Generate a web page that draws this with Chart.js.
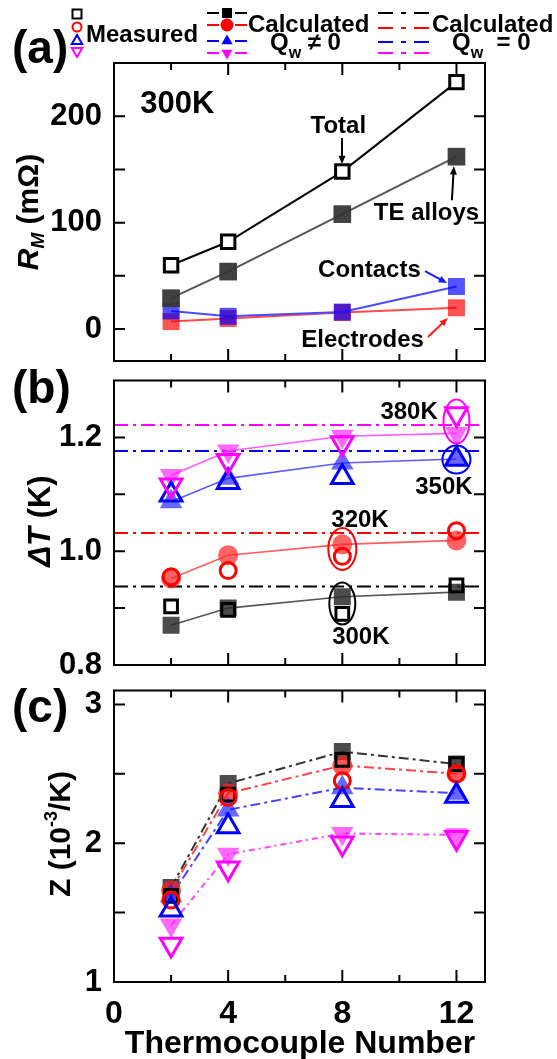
<!DOCTYPE html>
<html><head><meta charset="utf-8">
<style>
html,body{margin:0;padding:0;background:#fff;width:557px;height:1059px;overflow:hidden;position:relative}
canvas{position:absolute;left:0}
</style>
<script src="https://cdn.jsdelivr.net/npm/chart.js@4/dist/chart.umd.min.js"></script>
</head><body>
<canvas id="ca" width="557" height="375" style="top:0"></canvas>
<canvas id="cb" width="557" height="325" style="top:365px"></canvas>
<canvas id="cc" width="557" height="384" style="top:675px"></canvas>
<script>
// ---------- data ----------
const thermocouples = [2, 4, 8, 12];
const xTickLabels = [0, 4, 8, 12];
// (a) resistance at 300 K, mOhm
const rTotal = [60, 82, 148, 232];
const rTEalloys = [29, 54, 108, 162];
const rContacts = [17, 12, 16, 40];
const rElectrodes = [7, 10, 15.5, 20];
const aTicks = [0, 100, 200];
// (b) temperature difference, K
const dT300meas = [0.903, 0.897, 0.890, 0.940];
const dT320meas = [0.955, 0.966, 0.991, 1.036];
const dT350meas = [1.099, 1.121, 1.130, 1.162];
const dT380meas = [1.116, 1.159, 1.190, 1.241];
const dT300calc = [0.870, 0.900, 0.920, 0.928];
const dT320calc = [0.952, 0.993, 1.012, 1.019];
const dT350calc = [1.087, 1.128, 1.155, 1.162];
const dT380calc = [1.133, 1.176, 1.202, 1.207];
const dTnoLoss = [0.938, 1.032, 1.176, 1.222]; // Qw = 0 : 300K, 320K, 350K, 380K
const bTicks = [0.8, 1.0, 1.2];
// (c) Z, 1e-3/K
const z300meas = [1.62, 2.35, 2.60, 2.57];
const z320meas = [1.59, 2.33, 2.45, 2.50];
const z350meas = [1.52, 2.12, 2.31, 2.34];
const z380meas = [1.27, 1.82, 2.00, 2.04];
const z300calc = [1.68, 2.43, 2.66, 2.57];
const z320calc = [1.66, 2.36, 2.56, 2.50];
const z350calc = [1.62, 2.24, 2.40, 2.36];
const z380calc = [1.41, 1.92, 2.07, 2.06];
const cTicks = [1, 2, 3];

// ---------- helpers ----------
const FAM = '"Liberation Sans", Arial, Helvetica, sans-serif';
const fnt = (sz, it) => (it ? 'italic ' : '') + 'bold ' + sz + 'px ' + FAM;
const pts = arr => thermocouples.map((x, i) => ({x, y: arr[i]}));
const hline = v => [{x: 0, y: v}, {x: 13, y: v}];

function parts(ctx, list, x0, y0, rot, align) {
  ctx.save();
  ctx.translate(x0, y0);
  if (rot) ctx.rotate(-Math.PI / 2);
  let w = 0;
  list.forEach(p => { ctx.font = p.f; w += ctx.measureText(p.t).width; });
  let x = align === 'left' ? 0 : -w / 2;
  ctx.textAlign = 'left'; ctx.textBaseline = 'alphabetic'; ctx.fillStyle = '#000';
  list.forEach(p => { ctx.font = p.f; ctx.fillStyle = p.c || '#000'; ctx.fillText(p.t, x, p.dy || 0); x += ctx.measureText(p.t).width; });
  ctx.restore();
}

function marker(ctx, kind, x, y, r, fill, stroke, lw) {
  ctx.save();
  ctx.beginPath();
  if (kind === 'rect') ctx.rect(x - r, y - r, 2 * r, 2 * r);
  else if (kind === 'circle') ctx.arc(x, y, r, 0, Math.PI * 2);
  else if (kind === 'up') { ctx.moveTo(x, y - r); ctx.lineTo(x + r * 0.866, y + r * 0.5); ctx.lineTo(x - r * 0.866, y + r * 0.5); ctx.closePath(); }
  else { ctx.moveTo(x, y + r); ctx.lineTo(x + r * 0.866, y - r * 0.5); ctx.lineTo(x - r * 0.866, y - r * 0.5); ctx.closePath(); }
  if (fill) { ctx.fillStyle = fill; ctx.fill(); }
  if (stroke) { ctx.strokeStyle = stroke; ctx.lineWidth = lw; ctx.stroke(); }
  ctx.restore();
}

const axesFrame = {
  id: 'axesFrame',
  afterDraw(chart, args, o) {
    const {ctx, chartArea: a} = chart;
    const xs = chart.scales.x, ys = chart.scales.y;
    ctx.save();
    ctx.strokeStyle = '#000'; ctx.lineWidth = 2;
    const tk = (vals, len, ax) => vals.forEach(v => {
      ctx.beginPath();
      if (ax === 'x') {
        const p = xs.getPixelForValue(v);
        ctx.moveTo(p, a.bottom); ctx.lineTo(p, a.bottom - len);
        ctx.moveTo(p, a.top); ctx.lineTo(p, a.top + len);
      } else {
        const p = ys.getPixelForValue(v);
        ctx.moveTo(a.left, p); ctx.lineTo(a.left + len, p);
        ctx.moveTo(a.right, p); ctx.lineTo(a.right - len, p);
      }
      ctx.stroke();
    });
    tk([0, 4, 8, 12], 12, 'x'); tk([2, 6, 10], 7, 'x');
    tk(o.yMajor, 11, 'y'); tk(o.yMinor, 11, 'y');
    ctx.strokeRect(a.left, a.top, a.right - a.left, a.bottom - a.top);
    ctx.restore();
  }
};

const annot = {
  id: 'annot',
  afterDraw(chart, args, o) {
    const {ctx} = chart;
    const xs = chart.scales.x, ys = chart.scales.y;
    const P = (x, y) => [xs.getPixelForValue(x), ys.getPixelForValue(y)];
    ctx.save();
    (o.ellipses || []).forEach(e => {
      const [cx, cy] = P(e.x, e.y);
      ctx.beginPath(); ctx.ellipse(cx, cy, e.rx, e.ry, 0, 0, Math.PI * 2);
      ctx.strokeStyle = e.color; ctx.lineWidth = 2; ctx.stroke();
    });
    (o.arrows || []).forEach(ar => {
      const [x1, y1] = P(ar.x1, ar.y1), [x2, y2] = P(ar.x2, ar.y2);
      const ang = Math.atan2(y2 - y1, x2 - x1), h = 9;
      ctx.strokeStyle = ar.color; ctx.fillStyle = ar.color; ctx.lineWidth = 2;
      ctx.beginPath(); ctx.moveTo(x1, y1);
      ctx.lineTo(x2 - Math.cos(ang) * h * 0.8, y2 - Math.sin(ang) * h * 0.8); ctx.stroke();
      ctx.beginPath(); ctx.moveTo(x2, y2);
      ctx.lineTo(x2 - h * Math.cos(ang - 0.4), y2 - h * Math.sin(ang - 0.4));
      ctx.lineTo(x2 - h * Math.cos(ang + 0.4), y2 - h * Math.sin(ang + 0.4));
      ctx.closePath(); ctx.fill();
    });
    (o.texts || []).forEach(t => {
      const [px, py] = P(t.x, t.y);
      ctx.font = fnt(t.size); ctx.fillStyle = t.color || '#000';
      ctx.textAlign = 'center'; ctx.textBaseline = 'alphabetic';
      ctx.fillText(t.text, px, py);
    });
    (o.free || []).forEach(fn => fn(ctx));
    ctx.restore();
  }
};
Chart.register(axesFrame, annot);

function options(cfg) {
  return {
    responsive: false, animation: false, devicePixelRatio: 1, events: [],
    layout: {padding: {left: 0, right: 72, top: cfg.top, bottom: cfg.bottom}},
    plugins: {
      legend: {display: false}, tooltip: {enabled: false},
      axesFrame: {yMajor: cfg.yMajor, yMinor: cfg.yMinor},
      annot: cfg.annot
    },
    scales: {
      x: {
        type: 'linear', min: 0, max: 13, display: cfg.showX,
        grid: {display: false, drawTicks: false}, border: {display: false},
        afterBuildTicks: s => { s.ticks = xTickLabels.map(v => ({value: v})); },
        afterFit: s => { s.height = cfg.showX ? 77 : 0; s.paddingLeft = 0; s.paddingRight = 0; s.paddingTop = 0; s.paddingBottom = 0; },
        ticks: {font: {family: FAM, size: 32, weight: 'bold'}, color: '#000', padding: 13, maxRotation: 0, autoSkip: false}
      },
      y: {
        type: 'linear', min: cfg.min, max: cfg.max,
        grid: {display: false, drawTicks: false}, border: {display: false},
        afterBuildTicks: s => { s.ticks = cfg.yMajor.map(v => ({value: v})); },
        afterFit: s => { s.width = 114; s.paddingTop = 0; s.paddingBottom = 0; s.paddingLeft = 0; s.paddingRight = 0; },
        ticks: {font: {family: FAM, size: 31, weight: 'bold'}, color: '#000', padding: 12, autoSkip: false, callback: cfg.fmt}
      }
    }
  };
}

function ds(data, o) {
  return Object.assign({
    data, showLine: true, borderWidth: 2, pointBorderWidth: 0, pointRadius: 10,
    pointStyle: 'rect', pointRotation: 0, borderColor: '#000', pointBackgroundColor: '#000',
    pointBorderColor: 'rgba(0,0,0,0)'
  }, o);
}
const openPt = (color, style, r, rot) => ({showLine: false, pointStyle: style, pointRadius: r, pointRotation: rot || 0,
  pointBorderWidth: 3, pointBorderColor: color, pointBackgroundColor: 'rgba(0,0,0,0)'});
const fillPt = (fill, line, style, r, rot, dash) => ({pointStyle: style, pointRadius: r, pointRotation: rot || 0,
  pointBackgroundColor: fill, borderColor: line, borderWidth: dash ? 2 : 1.6, borderDash: dash || []});

// ---------- panel (a) ----------
new Chart(document.getElementById('ca'), {
  type: 'scatter',
  data: {datasets: [
    ds(pts(rTotal), {borderColor: '#000', pointStyle: 'rect', pointRadius: 9.5, pointBorderWidth: 3, pointBorderColor: '#000', pointBackgroundColor: '#fff'}),
    ds(pts(rTEalloys), {borderColor: '#555', pointRadius: 12.5, pointBackgroundColor: 'rgba(55,55,55,0.95)'}),
    ds(pts(rContacts), {borderColor: '#4a4aff', pointRadius: 12, pointBackgroundColor: 'rgba(0,0,255,0.68)'}),
    ds(pts(rElectrodes), {borderColor: '#ff4a4a', pointRadius: 12, pointBackgroundColor: 'rgba(255,0,0,0.68)'})
  ]},
  options: options({
    top: 63, bottom: 14, min: -30, max: 250, showX: false, yMajor: aTicks, yMinor: [50, 150], fmt: v => String(v),
    annot: {
      texts: [
        {text: '300K', x: 2.22, y: 203, size: 31},
        {text: 'Total', x: 7.86, y: 184.2, size: 24},
        {text: 'TE alloys', x: 10.95, y: 102.4, size: 24},
        {text: 'Contacts', x: 8.95, y: 48.9, size: 24},
        {text: 'Electrodes', x: 8.71, y: -16.9, size: 24}
      ],
      arrows: [
        {x1: 7.99, y1: 179.5, x2: 7.99, y2: 155, color: '#000'},
        {x1: 11.84, y1: 121, x2: 11.91, y2: 153, color: '#000'},
        {x1: 10.9, y1: 54.5, x2: 11.67, y2: 43.2, color: '#1a1aff'},
        {x1: 11.0, y1: -7.5, x2: 11.7, y2: 10.3, color: '#ff1a1a'}
      ],
      free: [ctx => {
        ctx.font = fnt(46); ctx.fillStyle = '#000'; ctx.textAlign = 'left'; ctx.textBaseline = 'alphabetic';
        ctx.fillText('(a)', 12, 63);
        marker(ctx, 'rect', 77, 14, 4.5, '#fff', '#000', 2);
        marker(ctx, 'circle', 77, 27, 4.5, null, '#f00', 2);
        marker(ctx, 'up', 77, 41, 6, null, '#00f', 2);
        marker(ctx, 'down', 77, 51, 6, null, '#f0f', 2);
        ctx.font = fnt(24); ctx.fillStyle = '#000'; ctx.fillText('Measured', 86, 42);
        const rows = [[13, '#000', 'rect'], [25, '#f00', 'circle'], [41, '#00f', 'up'], [53, '#f0f', 'down']];
        rows.forEach(([y, c, k]) => {
          ctx.strokeStyle = c; ctx.lineWidth = 2.2; ctx.setLineDash([]);
          ctx.beginPath(); ctx.moveTo(207, y); ctx.lineTo(219, y); ctx.moveTo(235, y); ctx.lineTo(247, y); ctx.stroke();
          marker(ctx, k, 227, y, k === 'rect' ? 5 : 6.5, c, null, 0);
        });
        ctx.font = fnt(24); ctx.fillStyle = '#000'; ctx.fillText('Calculated', 248, 32);
        parts(ctx, [{t: 'Q', f: fnt(24)}, {t: 'w', f: fnt(16), dy: 8}, {t: ' \u2260 0', f: fnt(24)}], 270, 50, false, 'left');
        [[13, '#000'], [28, '#f00'], [42, '#00f'], [53, '#f0f']].forEach(([y, c]) => {
          ctx.strokeStyle = c; ctx.lineWidth = 2.2; ctx.setLineDash([15, 8, 5, 8]);
          ctx.beginPath(); ctx.moveTo(378, y); ctx.lineTo(430, y); ctx.stroke();
        });
        ctx.setLineDash([]);
        ctx.font = fnt(24); ctx.fillStyle = '#000'; ctx.fillText('Calculated', 432, 32);
        parts(ctx, [{t: 'Q', f: fnt(24)}, {t: 'w', f: fnt(16), dy: 8}, {t: '  = 0', f: fnt(24)}], 452, 50, false, 'left');
        parts(ctx, [{t: 'R', f: fnt(30, true)}, {t: 'M', f: fnt(19, true), dy: 6}, {t: ' (m\u03A9)', f: fnt(30)}], 38, 212, true);
      }]
    }
  })
});

// ---------- panel (b) ----------
new Chart(document.getElementById('cb'), {
  type: 'scatter',
  data: {datasets: [
    ds(pts(dT380meas), openPt('#f0f', 'triangle', 12.5, 180)),
    ds(pts(dT350meas), openPt('#00f', 'triangle', 12.5)),
    ds(pts(dT320meas), openPt('#f00', 'circle', 8)),
    ds(pts(dT300meas), openPt('#000', 'rect', 9)),
    ds(pts(dT380calc), fillPt('rgba(255,40,255,0.7)', '#ff5cff', 'triangle', 13, 180)),
    ds(pts(dT350calc), fillPt('rgba(40,40,255,0.7)', '#5c5cff', 'triangle', 13)),
    ds(pts(dT320calc), fillPt('rgba(255,40,40,0.72)', '#ff5c5c', 'circle', 10)),
    ds(pts(dT300calc), fillPt('rgba(45,45,45,0.85)', '#555', 'rect', 12)),
    ds(hline(dTnoLoss[3]), {borderColor: '#f0f', pointRadius: 0, borderDash: [14, 5, 3, 5]}),
    ds(hline(dTnoLoss[2]), {borderColor: '#00f', pointRadius: 0, borderDash: [14, 5, 3, 5]}),
    ds(hline(dTnoLoss[1]), {borderColor: '#f00', pointRadius: 0, borderDash: [14, 5, 3, 5]}),
    ds(hline(dTnoLoss[0]), {borderColor: '#000', pointRadius: 0, borderDash: [14, 5, 3, 5]})
  ]},
  options: options({
    top: 8, bottom: 25, min: 0.8, max: 1.3, showX: false, yMajor: bTicks, yMinor: [0.9, 1.1], fmt: v => v.toFixed(1),
    annot: {
      ellipses: [
        {x: 12, y: 1.228, rx: 13, ry: 22, color: '#f0f'},
        {x: 12, y: 1.161, rx: 14, ry: 14, color: '#00f'},
        {x: 8, y: 1.004, rx: 14, ry: 21, color: '#f00'},
        {x: 8, y: 0.908, rx: 13, ry: 21, color: '#000'}
      ],
      texts: [
        {text: '380K', x: 10.34, y: 1.2332, size: 24},
        {text: '350K', x: 11.56, y: 1.0997, size: 24},
        {text: '320K', x: 8.62, y: 1.0432, size: 24},
        {text: '300K', x: 8.65, y: 0.8377, size: 24}
      ],
      free: [ctx => {
        ctx.font = fnt(46); ctx.fillStyle = '#000'; ctx.textAlign = 'left'; ctx.textBaseline = 'alphabetic';
        ctx.fillText('(b)', 12, 38);
        parts(ctx, [{t: '\u0394T', f: fnt(31, true)}, {t: ' (K)', f: fnt(31)}], 50, 156, true);
      }]
    }
  })
});

// ---------- panel (c) ----------
new Chart(document.getElementById('cc'), {
  type: 'scatter',
  data: {datasets: [
    ds(pts(z380meas), openPt('#f0f', 'triangle', 12.5, 180)),
    ds(pts(z350meas), openPt('#00f', 'triangle', 12.5)),
    ds(pts(z320meas), openPt('#f00', 'circle', 8)),
    ds(pts(z300meas), openPt('#000', 'rect', 9)),
    ds(pts(z380calc), fillPt('rgba(255,40,255,0.7)', '#ff44ff', 'triangle', 13, 180, [6, 4, 2, 4])),
    ds(pts(z350calc), fillPt('rgba(40,40,255,0.7)', '#4444ff', 'triangle', 13, 0, [10, 4, 3, 4])),
    ds(pts(z320calc), fillPt('rgba(255,30,30,0.75)', '#ff4444', 'circle', 10, 0, [10, 4, 3, 4])),
    ds(pts(z300calc), fillPt('rgba(45,45,45,0.85)', '#333', 'rect', 12, 0, [10, 4, 3, 4]))
  ]},
  options: options({
    top: 8, bottom: 0, min: 1, max: 3.1, showX: true, yMajor: cTicks, yMinor: [1.5, 2.5], fmt: v => String(v),
    annot: {
      free: [ctx => {
        ctx.font = fnt(46); ctx.fillStyle = '#000'; ctx.textAlign = 'left'; ctx.textBaseline = 'alphabetic';
        ctx.fillText('(c)', 12, 47);
        parts(ctx, [{t: 'Z (10', f: fnt(30)}, {t: '-3', f: fnt(18), dy: -13}, {t: '/K)', f: fnt(30)}], 70, 159, true);
        ctx.font = fnt(32); ctx.fillStyle = '#000'; ctx.textAlign = 'center';
        ctx.fillText('Thermocouple Number', 300, 378);
      }]
    }
  })
});
</script>
</body></html>
